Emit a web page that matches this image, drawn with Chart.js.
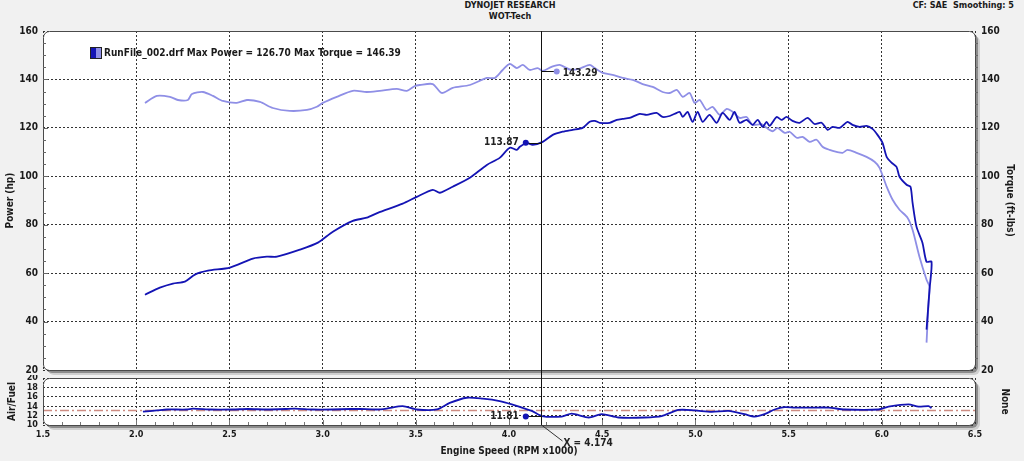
<!DOCTYPE html>
<html>
<head>
<meta charset="utf-8">
<script src="https://cdn.jsdelivr.net/npm/chart.js@4.4.1/dist/chart.umd.min.js"></script>
<style>
  html, body { margin: 0; padding: 0; background: #f1f1f1; }
  body { width: 1024px; height: 461px; position: relative; overflow: hidden;
         font-family: 'DejaVu Sans Condensed', 'DejaVu Sans', sans-serif; font-weight: bold; color: #1a1a1a; }
  canvas { position: absolute; left: 0; }
  #main { top: 0; }
  #afr { top: 375px; }
  .txt { position: absolute; font-size: 9px; white-space: nowrap; line-height: 11px; }
  #legend { position: absolute; left: 90px; top: 47px; font-size: 10px; line-height: 12px; white-space: nowrap; }
  #legend .box { display: inline-block; width: 10px; height: 10px; border: 1px solid #222; vertical-align: top;
                 background: linear-gradient(to right, #1414b4 50%, #8f8fe6 50%); margin-right: 2px; }
</style>
</head>
<body>
<div class="txt" style="left:0;width:1020px;text-align:center;top:0;">DYNOJET RESEARCH</div>
<div class="txt" style="left:0;width:1020px;text-align:center;top:11px;">WOT-Tech</div>
<div class="txt" style="right:10px;top:0;">CF: SAE&nbsp; Smoothing: 5</div>
<canvas id="main" width="1024" height="375"></canvas>
<canvas id="afr" width="1024" height="86"></canvas>
<div id="legend"><span class="box"></span>RunFile_002.drf Max Power = 126.70 Max Torque = 146.39</div>
<script>
// values (rpm x1000)
const powerRpm = [2.047, 2.127, 2.197, 2.261, 2.315, 2.385, 2.503, 2.626, 2.701, 2.755, 2.878, 2.975, 3.055, 3.162, 3.237, 3.296, 3.430, 3.505, 3.591, 3.629, 3.698, 3.790, 3.881, 3.950, 4.004, 4.042, 4.058, 4.095, 4.127, 4.181, 4.235, 4.288, 4.342, 4.395, 4.433, 4.460, 4.487, 4.540, 4.578, 4.610, 4.647, 4.701, 4.739, 4.792, 4.824, 4.862, 4.900, 4.916, 4.932, 4.958, 4.985, 5.012, 5.039, 5.076, 5.114, 5.146, 5.184, 5.210, 5.237, 5.275, 5.307, 5.334, 5.361, 5.382, 5.398, 5.436, 5.462, 5.489, 5.521, 5.559, 5.602, 5.639, 5.677, 5.709, 5.736, 5.774, 5.816, 5.843, 5.881, 5.918, 5.950, 5.977, 6.004, 6.026, 6.052, 6.079, 6.095, 6.133, 6.154, 6.165, 6.186, 6.218, 6.240, 6.267, 6.256, 6.240];
const powerHp = [51.1, 54.0, 55.7, 56.5, 59.4, 61.0, 62.3, 66.0, 66.8, 66.8, 69.7, 72.6, 77.1, 81.6, 82.9, 84.9, 88.7, 91.5, 94.4, 93.2, 95.7, 99.4, 104.7, 107.6, 111.8, 110.9, 112.2, 113.8, 113.0, 114.2, 117.1, 118.4, 119.2, 120.0, 122.5, 122.9, 122.1, 122.1, 123.3, 123.7, 124.1, 125.8, 125.4, 126.2, 124.5, 124.9, 126.2, 126.6, 124.5, 126.6, 122.5, 126.6, 122.5, 125.4, 122.1, 126.2, 123.3, 126.6, 122.1, 123.3, 121.2, 123.3, 120.4, 122.5, 120.8, 124.5, 123.3, 124.5, 122.9, 122.1, 124.1, 121.6, 122.1, 119.2, 120.4, 120.0, 122.5, 121.2, 120.4, 120.8, 119.6, 117.1, 113.8, 108.0, 105.6, 103.9, 99.8, 96.5, 95.7, 89.1, 79.2, 72.6, 64.7, 64.7, 53.2, 36.7];

const torqueRpm = [2.047, 2.111, 2.181, 2.224, 2.277, 2.299, 2.358, 2.412, 2.465, 2.540, 2.594, 2.664, 2.733, 2.824, 2.916, 2.969, 3.001, 3.076, 3.162, 3.237, 3.307, 3.398, 3.452, 3.495, 3.521, 3.591, 3.639, 3.698, 3.790, 3.881, 3.924, 3.966, 4.004, 4.042, 4.074, 4.111, 4.154, 4.181, 4.229, 4.272, 4.330, 4.380, 4.433, 4.460, 4.503, 4.556, 4.610, 4.664, 4.717, 4.771, 4.824, 4.862, 4.900, 4.932, 4.969, 4.996, 5.023, 5.060, 5.092, 5.130, 5.168, 5.200, 5.237, 5.275, 5.307, 5.355, 5.382, 5.414, 5.441, 5.479, 5.505, 5.543, 5.575, 5.613, 5.650, 5.682, 5.720, 5.757, 5.790, 5.816, 5.865, 5.918, 5.961, 5.988, 6.026, 6.058, 6.095, 6.138, 6.165, 6.202, 6.240, 6.256, 6.251, 6.240];
const torqueLb = [130.3, 133.2, 132.8, 131.5, 131.5, 134.0, 134.8, 133.2, 131.1, 130.3, 131.5, 130.7, 128.2, 127.0, 127.4, 128.7, 130.3, 132.8, 135.3, 134.8, 135.3, 136.1, 135.3, 137.3, 137.7, 138.1, 134.4, 136.5, 137.7, 140.6, 140.6, 143.9, 146.4, 144.7, 146.0, 143.9, 144.7, 143.5, 145.2, 146.0, 144.0, 144.5, 146.0, 144.7, 142.7, 141.9, 140.6, 139.8, 138.1, 136.9, 134.8, 134.4, 135.7, 132.8, 134.4, 130.3, 131.5, 127.4, 128.7, 125.4, 127.8, 126.6, 124.1, 124.5, 121.2, 121.5, 120.0, 118.6, 120.0, 117.9, 118.4, 115.9, 116.3, 114.2, 115.1, 112.2, 110.9, 110.1, 109.7, 110.9, 109.7, 108.0, 106.0, 103.5, 95.7, 90.3, 86.2, 82.9, 77.9, 66.8, 57.3, 54.4, 47.8, 31.3];

const afrRpm = [2.036, 2.111, 2.165, 2.272, 2.304, 2.400, 2.519, 2.600, 2.700, 2.800, 2.850, 2.950, 3.050, 3.150, 3.200, 3.291, 3.344, 3.430, 3.505, 3.613, 3.682, 3.773, 3.859, 3.950, 4.015, 4.122, 4.176, 4.283, 4.336, 4.428, 4.497, 4.588, 4.728, 4.819, 4.910, 4.996, 5.087, 5.178, 5.264, 5.318, 5.371, 5.425, 5.479, 5.532, 5.623, 5.715, 5.800, 5.983, 6.036, 6.143, 6.197, 6.251, 6.267];
const afrRatio = [12.85, 13.1, 13.3, 13.3, 13.5, 13.3, 13.3, 13.4, 13.3, 13.4, 13.5, 13.3, 13.3, 13.4, 13.4, 13.3, 13.5, 14.0, 13.3, 13.3, 14.7, 15.8, 15.6, 15.1, 14.4, 13.0, 11.9, 11.8, 12.4, 11.6, 12.3, 11.6, 11.6, 11.9, 13.2, 13.1, 12.8, 13.0, 12.3, 11.8, 12.3, 13.3, 13.8, 13.7, 13.7, 13.7, 13.3, 13.3, 13.9, 14.4, 13.9, 14.0, 13.6];
const afrTarget = 13.1;

// cursor readout
const cursorX = 4.174;
const powerMark = { x: 4.09, y: 113.87 };
const torqueMark = { x: 4.256, y: 143.29 };
const afrMark = { x: 4.09, y: 11.81 };

const xTicks = [1.5, 2.0, 2.5, 3.0, 3.5, 4.0, 4.5, 5.0, 5.5, 6.0, 6.5];

const FONT = "'DejaVu Sans Condensed', 'DejaVu Sans', sans-serif";
const DARK = '#1414b4';
const LIGHT = '#8f8fe6';
Chart.defaults.font.family = FONT;
Chart.defaults.font.weight = 'bold';
Chart.defaults.color = '#1a1a1a';

function pts(xs, ys) { return xs.map((x, i) => ({ x: x, y: ys[i] })); }

// fixed axis sizes so the plot areas land where the sheet has them
function fixWidth(w) {
  return s => { s.width = w; s.paddingTop = 0; s.paddingBottom = 0; };
}
function fixHeight(h) {
  return s => { s.height = h; s.paddingLeft = 0; s.paddingRight = 0; };
}

function frameBack(chart) {
  const { ctx, chartArea: a } = chart;
  const w = a.right - a.left, h = a.bottom - a.top;
  ctx.save();
  ctx.fillStyle = '#cfcfcf';
  ctx.beginPath(); ctx.roundRect(a.left + 5, a.top + 5, w, h, 6); ctx.fill();
  ctx.fillStyle = '#8c8c8c';
  ctx.beginPath(); ctx.roundRect(a.left + 3, a.top + 3, w, h, 6); ctx.fill();
  ctx.fillStyle = '#ffffff';
  ctx.beginPath(); ctx.roundRect(a.left, a.top, w, h, 6); ctx.fill();
  ctx.restore();
}

function frameLine(chart) {
  const { ctx, chartArea: a } = chart;
  ctx.save();
  ctx.strokeStyle = '#4a4a4a';
  ctx.lineWidth = 1;
  ctx.beginPath(); ctx.roundRect(a.left + 0.5, a.top + 0.5, a.right - a.left, a.bottom - a.top, 6); ctx.stroke();
  ctx.restore();
}

function line(ctx, x1, y1, x2, y2) {
  ctx.beginPath(); ctx.moveTo(x1, y1); ctx.lineTo(x2, y2); ctx.stroke();
}

function dot(ctx, x, y, color) {
  ctx.fillStyle = color;
  ctx.beginPath(); ctx.arc(x, y, 3, 0, Math.PI * 2); ctx.fill();
}

const mainPlugin = {
  id: 'mainDeco',
  beforeDraw: frameBack,
  afterDraw(chart) {
    const { ctx, chartArea: a, scales } = chart;
    frameLine(chart);
    ctx.save();
    // minor ticks on the side edges
    ctx.strokeStyle = '#666';
    for (let v = 25; v < 160; v += 5) {
      const y = Math.round(scales.y.getPixelForValue(v)) + 0.5;
      const len = v % 20 === 0 ? 5 : 3;
      line(ctx, a.left, y, a.left + len, y);
      line(ctx, a.right, y, a.right + 3, y);
    }
    // cursor line and readouts
    const cx = Math.round(scales.x.getPixelForValue(cursorX)) + 0.5;
    ctx.strokeStyle = '#111';
    ctx.lineWidth = 1;
    line(ctx, cx, a.top, cx, chart.height);
    const px = scales.x.getPixelForValue(powerMark.x), py = scales.y.getPixelForValue(powerMark.y);
    const tx = scales.x.getPixelForValue(torqueMark.x), ty = scales.y1.getPixelForValue(torqueMark.y);
    line(ctx, px, Math.round(py) + 0.5, cx, Math.round(py) + 0.5);
    line(ctx, cx, Math.round(ty) + 0.5, tx, Math.round(ty) + 0.5);
    dot(ctx, px, py, DARK);
    dot(ctx, tx, ty, LIGHT);
    ctx.fillStyle = '#222';
    ctx.font = 'bold 10px ' + FONT;
    ctx.textBaseline = 'middle';
    ctx.textAlign = 'right';
    ctx.fillText(powerMark.y.toFixed(2), px - 7, py);
    ctx.textAlign = 'left';
    ctx.fillText(torqueMark.y.toFixed(2), tx + 6, ty + 2);
    ctx.restore();
  }
};

const afrPlugin = {
  id: 'afrDeco',
  beforeDraw: frameBack,
  afterDraw(chart) {
    const { ctx, chartArea: a, scales } = chart;
    frameLine(chart);
    ctx.save();
    ctx.strokeStyle = '#777';
    for (let i = 16; i < 65; i++) {
      const v = i / 10;
      const x = Math.round(scales.x.getPixelForValue(v)) + 0.5;
      const len = i % 5 === 0 ? 5 : 3;
      line(ctx, x, a.bottom, x, a.bottom - len);
    }
    const cx = Math.round(scales.x.getPixelForValue(cursorX)) + 0.5;
    ctx.strokeStyle = '#111';
    line(ctx, cx, 0, cx, a.bottom);
    ctx.strokeStyle = '#333';
    line(ctx, cx, a.bottom, cx + 21, a.bottom + 16);
    const mx = scales.x.getPixelForValue(afrMark.x), my = scales.y.getPixelForValue(afrMark.y);
    ctx.strokeStyle = '#111';
    line(ctx, mx, Math.round(my) + 0.5, cx, Math.round(my) + 0.5);
    dot(ctx, mx, my, DARK);
    ctx.fillStyle = '#222';
    ctx.font = 'bold 10px ' + FONT;
    ctx.textBaseline = 'middle';
    ctx.textAlign = 'right';
    ctx.fillText(afrMark.y.toFixed(2), mx - 7, my);
    ctx.textAlign = 'left';
    ctx.fillText('X = ' + cursorX.toFixed(3), cx + 22, a.bottom + 18);
    ctx.restore();
  }
};

const gridDash = { display: false, dash: [2, 2] };

new Chart(document.getElementById('main'), {
  type: 'scatter',
  data: {
    datasets: [
      { data: pts(powerRpm, powerHp), yAxisID: 'y', showLine: true, borderColor: DARK, borderWidth: 1.8, pointRadius: 0, tension: 0.25 },
      { data: pts(torqueRpm, torqueLb), yAxisID: 'y1', showLine: true, borderColor: LIGHT, borderWidth: 1.8, pointRadius: 0, tension: 0.25 }
    ]
  },
  options: {
    responsive: false,
    animation: false,
    events: [],
    layout: { padding: { top: 31, bottom: 5, left: 0, right: 0 } },
    plugins: { legend: { display: false }, tooltip: { enabled: false } },
    scales: {
      x: {
        type: 'linear', min: 1.5, max: 6.5,
        afterBuildTicks(s) { s.ticks = xTicks.map(v => ({ value: v })); },
        ticks: { display: false },
        grid: { color: '#333', drawTicks: false },
        border: gridDash,
        afterFit: fixHeight(0)
      },
      y: {
        position: 'left', min: 20, max: 160,
        ticks: { stepSize: 20, padding: 5, autoSkip: false, font: { size: 10, weight: 'bold' } },
        grid: { color: '#333', drawTicks: false },
        border: gridDash,
        title: { display: true, text: 'Power (hp)', font: { size: 10, weight: 'bold' }, padding: { top: 4, bottom: 0 } },
        afterFit: fixWidth(43)
      },
      y1: {
        position: 'right', min: 20, max: 160,
        ticks: { stepSize: 20, padding: 6, autoSkip: false, font: { size: 10, weight: 'bold' } },
        grid: { drawOnChartArea: false, drawTicks: false },
        border: { display: false },
        title: { display: true, text: 'Torque (ft-lbs)', font: { size: 10, weight: 'bold' }, padding: { top: 8, bottom: 0 } },
        afterFit: fixWidth(49)
      }
    }
  },
  plugins: [mainPlugin]
});

new Chart(document.getElementById('afr'), {
  type: 'scatter',
  data: {
    datasets: [
      { data: pts(afrRpm, afrRatio), showLine: true, borderColor: DARK, borderWidth: 1.8, pointRadius: 0, tension: 0.25 },
      { data: [{ x: 1.5, y: afrTarget }, { x: 6.5, y: afrTarget }], showLine: true, borderColor: 'rgb(205,140,130)', borderWidth: 1.5, borderDash: [9, 3, 2, 3], pointRadius: 0 }
    ]
  },
  options: {
    responsive: false,
    animation: false,
    events: [],
    layout: { padding: { top: 3, bottom: 0, left: 0, right: 0 } },
    plugins: { legend: { display: false }, tooltip: { enabled: false } },
    scales: {
      x: {
        type: 'linear', min: 1.5, max: 6.5,
        afterBuildTicks(s) { s.ticks = xTicks.map(v => ({ value: v })); },
        ticks: { padding: 4, autoSkip: false, maxRotation: 0, font: { size: 9, weight: 'bold' }, callback: v => v.toFixed(1) },
        grid: { color: '#333', drawTicks: false },
        border: gridDash,
        title: { display: true, text: 'Engine Speed (RPM x1000)', font: { size: 10, weight: 'bold' }, padding: { top: 0, bottom: 4 } },
        afterFit: fixHeight(36)
      },
      y: {
        position: 'left', min: 10, max: 20,
        ticks: { stepSize: 2, padding: 5, autoSkip: false, font: { size: 9, weight: 'bold' } },
        grid: { color: '#333', drawTicks: false },
        border: gridDash,
        title: { display: true, text: 'Air/Fuel', font: { size: 10, weight: 'bold' }, padding: { top: 6, bottom: 0 } },
        afterFit: fixWidth(43)
      },
      y1: {
        position: 'right', min: 10, max: 20,
        ticks: { display: false },
        grid: { drawOnChartArea: false, drawTicks: false },
        border: { display: false },
        title: { display: true, text: 'None', font: { size: 10, weight: 'bold' }, padding: { top: 13, bottom: 0 } },
        afterFit: fixWidth(49)
      }
    }
  },
  plugins: [afrPlugin]
});
</script>
</body>
</html>
